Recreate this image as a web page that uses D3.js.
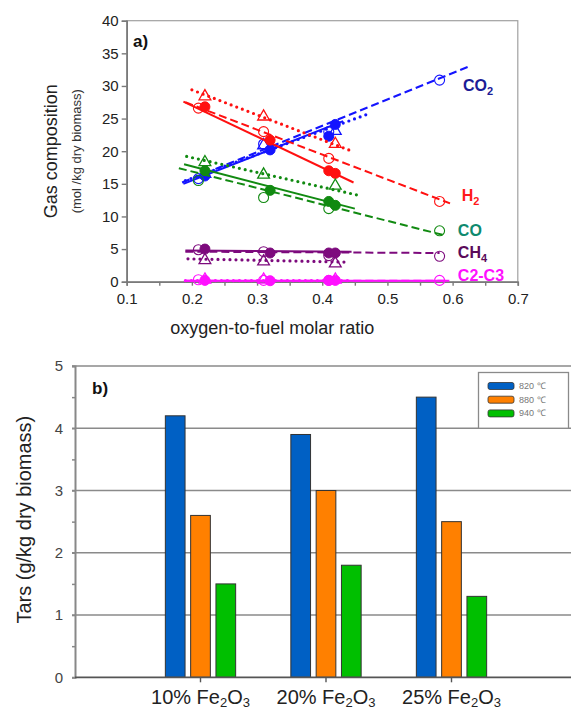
<!DOCTYPE html>
<html>
<head>
<meta charset="UTF-8" />
<script src="https://d3js.org/d3.v7.min.js"></script>
<style>
  body { margin: 0; background: #fff; }
  svg { display: block; font-family: "Liberation Sans", Arial, sans-serif; }
</style>
</head>
<body>
<svg width="571" height="709"></svg>
<script>
// ---- panel a) data ----
const gases = ["CO2", "H2", "CO", "CH4", "C2-C3"];
const gasColors = ["#1414ff", "#ff1010", "#118a11", "#7d0a7d", "#ff10ff"];
const labelColors = ["#1c1c96", "#ff1a1a", "#0f8a6e", "#5a0a5a", "#ff10ff"];

const xOpen = [0.21, 0.31, 0.41, 0.58];
const xFilled = [0.22, 0.32, 0.41, 0.42];
const xTri = [0.22, 0.31, 0.42];

const yOpen = [
  [15.8, 21.1, 23.0, 30.9],
  [26.6, 23.0, 18.9, 12.3],
  [15.5, 12.9, 11.2, 7.8],
  [4.9, 4.6, 4.0, 3.9],
  [0.3, 0.2, 0.2, 0.2]
];
const yFilled = [
  [16.2, 20.2, 22.3, 24.1],
  [26.8, 21.7, 17.0, 16.6],
  [17.0, 14.0, 12.3, 11.7],
  [5.0, 4.4, 4.4, 4.4],
  [0.2, 0.15, 0.2, 0.2]
];
const yTri = [
  [16.5, 20.9, 23.1],
  [28.4, 25.3, 21.1],
  [18.3, 16.4, 14.7],
  [3.3, 3.1, 2.8],
  [0.3, 0.3, 0.3]
];

// trend lines: [[x0, y0], [x1, y1]]
const fitDashed = [
  [[0.185, 15.2], [0.623, 32.9]],
  [[0.19, 27.5], [0.596, 12.0]],
  [[0.18, 17.4], [0.588, 7.1]],
  [[0.19, 4.6], [0.58, 4.4]],
  [[0.19, 0.15], [0.59, 0.15]]
];
const fitSolid = [
  [[0.187, 15.0], [0.432, 24.6]],
  [[0.187, 27.6], [0.448, 15.2]],
  [[0.188, 18.0], [0.45, 11.2]],
  [[0.19, 4.8], [0.445, 4.6]],
  [[0.19, 0.15], [0.595, 0.15]]
];
const fitDotted = [
  [[0.19, 15.5], [0.473, 25.8]],
  [[0.2, 29.4], [0.443, 20.1]],
  [[0.192, 19.2], [0.453, 13.3]],
  [[0.194, 3.5], [0.44, 3.0]],
  [[0.19, 0.15], [0.44, 0.15]]
];
const labelPos = [[0.616, 30.1], [0.614, 13.3], [0.608, 8.0], [0.608, 4.5], [0.608, 1.0]];

const xTicksA = [0.1, 0.2, 0.3, 0.4, 0.5, 0.6, 0.7];
const yTicksA = [0, 5, 10, 15, 20, 25, 30, 35, 40];

// ---- panel b) data ----
const catLabels = ["10%", "20%", "25%"];
const temps = ["820 ℃", "880 ℃", "940 ℃"];
const tempColors = ["#0060c4", "#ff8000", "#00bf00"];
const tars = [
  [4.2, 2.6, 1.5],
  [3.9, 3.0, 1.8],
  [4.5, 2.5, 1.3]
];
const yTicksB = [0, 1, 2, 3, 4, 5];

const svg = d3.select("svg");

// ================= panel a =================
const xA = d3.scaleLinear().domain([0.1, 0.7]).range([126.7, 517.8]);
const yA = d3.scaleLinear().domain([0, 40]).range([281.7, 20.7]);

const gA = svg.append("g");

// frame
gA.append("rect")
  .attr("x", xA(0.1)).attr("y", yA(40))
  .attr("width", xA(0.7) - xA(0.1)).attr("height", yA(0) - yA(40))
  .attr("fill", "none").attr("stroke", "#a0a0a0").attr("stroke-width", 1.2);

const axLeft = gA.append("g").attr("transform", `translate(${xA(0.1)},0)`)
  .call(d3.axisLeft(yA).tickValues(yTicksA).tickSize(5).tickPadding(3));
const axBot = gA.append("g").attr("transform", `translate(0,${yA(0)})`)
  .call(d3.axisBottom(xA).tickValues(d3.range(0.1, 0.701, 0.05)).tickSize(4).tickPadding(8)
    .tickFormat(d => xTicksA.some(t => Math.abs(t - d) < 1e-6) ? d3.format(".1f")(d) : ""));
[axLeft, axBot].forEach(a => {
  a.select(".domain").attr("stroke", "#7a7a7a").attr("stroke-width", 1.6);
  a.selectAll(".tick line").attr("stroke", "#7a7a7a").attr("stroke-width", 1.4);
  a.selectAll(".tick text").attr("fill", "#222").style("font-size", "15px");
});

const lineA = d3.line().x(d => xA(d[0])).y(d => yA(d[1]));

gases.forEach((g, i) => {
  const c = gasColors[i];
  gA.append("path").attr("d", lineA(fitDashed[i]))
    .attr("stroke", c).attr("stroke-width", 2).attr("fill", "none")
    .attr("stroke-dasharray", "8,4");
  gA.append("path").attr("d", lineA(fitSolid[i]))
    .attr("stroke", c).attr("stroke-width", 2).attr("fill", "none");
  gA.append("path").attr("d", lineA(fitDotted[i]))
    .attr("stroke", c).attr("stroke-width", 3.2).attr("fill", "none")
    .attr("stroke-linecap", "round").attr("stroke-dasharray", "0,6");

  gA.selectAll(null).data(xOpen.map((x, k) => [x, yOpen[i][k]])).enter()
    .append("circle")
    .attr("cx", d => xA(d[0])).attr("cy", d => yA(d[1])).attr("r", 5)
    .attr("fill", "none").attr("stroke", c).attr("stroke-width", 1.1);

  gA.selectAll(null).data(xTri.map((x, k) => [x, yTri[i][k]])).enter()
    .append("path")
    .attr("transform", d => `translate(${xA(d[0])},${yA(d[1])})`)
    .attr("d", d3.symbol(d3.symbolTriangle, 60))
    .attr("fill", "none").attr("stroke", c).attr("stroke-width", 1.3);

  gA.selectAll(null).data(xFilled.map((x, k) => [x, yFilled[i][k]])).enter()
    .append("circle")
    .attr("cx", d => xA(d[0])).attr("cy", d => yA(d[1])).attr("r", 5)
    .attr("fill", c).attr("stroke", c).attr("stroke-width", 1);
});

// gas labels with subscripts
const gasLabel = gA.selectAll("text.gas").data(gases).enter().append("text")
  .attr("class", "gas")
  .attr("x", (d, i) => xA(labelPos[i][0]))
  .attr("y", (d, i) => yA(labelPos[i][1]) + 6)
  .attr("fill", (d, i) => labelColors[i])
  .style("font-size", "16px").style("font-weight", "bold");
gasLabel.each(function(d) {
  const t = d3.select(this);
  const m = d.match(/^([A-Z]+)(\d)$/);
  if (m && d !== "C2-C3") {
    t.append("tspan").text(m[1]);
    t.append("tspan").text(m[2]).attr("dy", 4).style("font-size", "11px");
  } else {
    t.text(d);
  }
});

gA.append("text").attr("x", 133).attr("y", 47).text("a)")
  .style("font-size", "17px").style("font-weight", "bold").attr("fill", "#111");

gA.append("text")
  .attr("transform", `translate(57,${yA(20)}) rotate(-90)`)
  .attr("text-anchor", "middle").attr("fill", "#222")
  .style("font-size", "18px").text("Gas composition");
gA.append("text")
  .attr("transform", `translate(81,${yA(20)}) rotate(-90)`)
  .attr("text-anchor", "middle").attr("fill", "#333")
  .style("font-size", "13px").text("(mol /kg dry biomass)");
gA.append("text")
  .attr("x", (xA(0.1) + xA(0.7)) / 2 - 50).attr("y", 334)
  .attr("text-anchor", "middle").attr("fill", "#222")
  .style("font-size", "18px").text("oxygen-to-fuel molar ratio");

// ================= panel b =================
const xB = d3.scaleLinear().domain([0, 4]).range([75, 577]);
const yB = d3.scaleLinear().domain([0, 5]).range([677.3, 366]);
const barW = 19.7, barStep = 25.3;

const gB = svg.append("g");

gB.selectAll("line.grid").data(yTicksB.filter(d => d > 0)).enter().append("line")
  .attr("x1", xB(0) - 3).attr("x2", 571)
  .attr("y1", d => yB(d)).attr("y2", d => yB(d))
  .attr("stroke", "#8a8a8a").attr("stroke-width", 1.6);

const axLeftB = gB.append("g").attr("transform", `translate(${xB(0)},0)`)
  .call(d3.axisLeft(yB).ticks(10).tickSize(3).tickPadding(9)
    .tickFormat(d => Number.isInteger(d) ? d : ""));
axLeftB.select(".domain").attr("stroke", "#888").attr("stroke-width", 2);
axLeftB.selectAll(".tick line").attr("stroke", "#888").attr("stroke-width", 1.5);
axLeftB.selectAll(".tick text").attr("fill", "#444").style("font-size", "15px");

// bars
tars.forEach((vals, ci) => {
  gB.selectAll(null).data(vals).enter().append("rect")
    .attr("x", (d, k) => xB(ci + 1) + (k - 1) * barStep - barW / 2)
    .attr("y", d => yB(d))
    .attr("width", barW)
    .attr("height", d => yB(0) - yB(d))
    .attr("fill", (d, k) => tempColors[k])
    .attr("stroke", "#333").attr("stroke-width", 1);
});

// x axis baseline + ticks
gB.append("line").attr("x1", xB(0)).attr("x2", 571)
  .attr("y1", yB(0)).attr("y2", yB(0))
  .attr("stroke", "#555").attr("stroke-width", 1.8);
gB.selectAll("line.xt").data(catLabels).enter().append("line")
  .attr("x1", (d, i) => xB(i + 1)).attr("x2", (d, i) => xB(i + 1))
  .attr("y1", yB(0)).attr("y2", yB(0) + 5)
  .attr("stroke", "#555").attr("stroke-width", 1.4);

const catText = gB.selectAll("text.cat").data(catLabels).enter().append("text")
  .attr("x", (d, i) => xB(i + 1)).attr("y", 704)
  .attr("text-anchor", "middle").attr("fill", "#222")
  .style("font-size", "20px");
catText.each(function(d) {
  const t = d3.select(this);
  t.append("tspan").text(d + " Fe");
  t.append("tspan").text("2").attr("dy", 3).style("font-size", "13px");
  t.append("tspan").text("O").attr("dy", -3);
  t.append("tspan").text("3").attr("dy", 3).style("font-size", "13px");
});

gB.append("text").attr("x", 92).attr("y", 394).text("b)")
  .style("font-size", "17px").style("font-weight", "bold").attr("fill", "#111");

gB.append("text")
  .attr("transform", `translate(31,${yB(2.5) - 2}) rotate(-90)`)
  .attr("text-anchor", "middle").attr("fill", "#222")
  .style("font-size", "20px").text("Tars (g/kg dry biomass)");

// legend
const lg = gB.append("g");
lg.append("rect").attr("x", 478.5).attr("y", 372.5).attr("width", 90).attr("height", yB(4) - 372.5)
  .attr("fill", "#fff").attr("stroke", "#8a8a8a").attr("stroke-width", 1.3);
temps.forEach((t, k) => {
  const cy = 386 + k * 13.7;
  lg.append("rect").attr("x", 488).attr("y", cy - 3.5).attr("width", 26).attr("height", 7)
    .attr("rx", 2).attr("fill", tempColors[k]).attr("stroke", "#333").attr("stroke-width", 0.8);
  lg.append("text").attr("x", 519).attr("y", cy + 3).text(t)
    .attr("fill", "#777").style("font-size", "9px");
});
</script>
</body>
</html>
